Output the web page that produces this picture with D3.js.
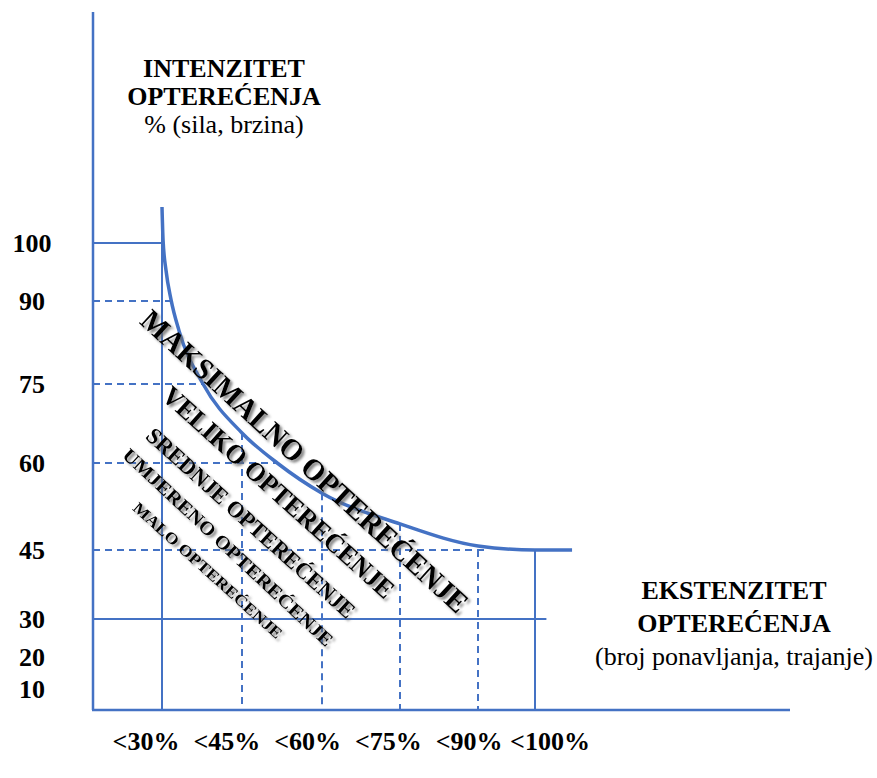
<!DOCTYPE html>
<html>

<head>
  <meta charset="utf-8">
  <!-- Load d3.js version 7-->
  <script src="https://d3js.org/d3.v7.min.js"></script>
  <title>Intenzitet i ekstenzitet opterećenja</title>
  <style>
    body { margin: 0; background: #fff; }
    text { font-family: "Liberation Serif", "Times New Roman", serif; fill: #000; }
  </style>
</head>

<body>
  <div id="myDiv"></div>

  <script>
    // ---- data ----
    // intensity (y) tick labels
    const intensityTicks = [100, 90, 75, 60, 45, 30, 20, 10];
    // extensity (x) categories and their labels
    const extensityCats = [30, 45, 60, 75, 90, 100];
    const extensityLabels = ["<30%", "<45%", "<60%", "<75%", "<90%", "<100%"];
    // horizontal guides: level, where the line stops (extensity), dashed or not
    const levelValues = [100, 90, 75, 60, 45, 30];
    const levelEnds = [30, 31.7, 37.7, 51.6, 91.5, 102];
    const levelDashed = [false, true, true, true, true, false];
    // vertical guides: top of each line (intensity), dashed or not
    const catTops = [106, 65.7, 54.8, 49.5, 45, 45];
    const catDashed = [false, true, true, true, true, false];
    // the load curve
    const curveExt = [30, 30.2, 30.75, 31.7, 33.2, 37.7, 45, 51.6, 60, 75, 90, 100, 106.5];
    const curveInt = [106.2, 100.5, 95.3, 90.2, 84.6, 75, 65.7, 60, 54.8, 49.5, 45.7, 45, 45];
    // zone names along the diagonal
    const zoneNames = ["MAKSIMALNO OPTEREĆENJE", "VELIKO OPTEREĆENJE", "SREDNJE OPTEREĆENJE",
      "UMJERENO OPTEREĆENJE", "MALO OPTEREĆENJE"];

    // ---- layout ----
    const W = 877, H = 778;
    const axisX = 93, axisY = 710, axisTop = 12, axisRight = 790;
    const blue = "#4472C4";
    // where each zone label sits (in data units), its angle, size and length
    const zoneLayout = [
      { ext: 56.8, int: 60.4, angle: 42.5, size: 30, len: 432 },
      { ext: 51.9, int: 55.0, angle: 42.0, size: 27, len: 302 },
      { ext: 46.7, int: 49.7, angle: 42.0, size: 23, len: 272 },
      { ext: 42.4, int: 45.5, angle: 43.0, size: 19, len: 280 },
      { ext: 38.6, int: 40.6, angle: 42.0, size: 16, len: 195 }
    ];

    const svg = d3.select("#myDiv")
      .append("svg")
      .attr("width", W)
      .attr("height", H);

    // drop shadow for the zone labels
    svg.append("defs").append("filter")
      .attr("id", "shadow")
      .attr("x", "-20%").attr("y", "-20%").attr("width", "140%").attr("height", "140%")
      .append("feDropShadow")
      .attr("dx", 2.5).attr("dy", 2.5)
      .attr("stdDeviation", 1.2)
      .attr("flood-color", "#666")
      .attr("flood-opacity", 0.75);

    // Build X scale (extensity)
    const x = d3.scaleLinear()
      .domain([30, 45, 60, 75, 90, 100])
      .range([162, 242, 322, 400, 478, 535]);

    // Build Y scale (intensity) - the source drawing is not evenly spaced
    const y = d3.scaleLinear()
      .domain([0, 10, 20, 30, 45, 60, 75, 90, 100])
      .range([709, 689, 657, 619, 550, 463, 384, 301, 243]);

    // horizontal guide lines
    svg.selectAll(".hline")
      .data(levelValues)
      .join("line")
      .attr("class", "hline")
      .attr("x1", axisX)
      .attr("x2", (d, i) => x(levelEnds[i]))
      .attr("y1", d => y(d))
      .attr("y2", d => y(d))
      .attr("stroke", blue)
      .attr("stroke-width", 2)
      .attr("stroke-dasharray", (d, i) => levelDashed[i] ? "7,5" : null);

    // vertical guide lines
    svg.selectAll(".vline")
      .data(extensityCats)
      .join("line")
      .attr("class", "vline")
      .attr("x1", d => x(d))
      .attr("x2", d => x(d))
      .attr("y1", (d, i) => y(catTops[i]))
      .attr("y2", y(0))
      .attr("stroke", blue)
      .attr("stroke-width", 2)
      .attr("stroke-dasharray", (d, i) => catDashed[i] ? "7,5" : null);

    // axes lines
    svg.append("line")
      .attr("x1", axisX).attr("x2", axisX)
      .attr("y1", axisTop).attr("y2", axisY)
      .attr("stroke", blue).attr("stroke-width", 2.5);
    svg.append("line")
      .attr("x1", axisX - 1).attr("x2", axisRight)
      .attr("y1", axisY).attr("y2", axisY)
      .attr("stroke", blue).attr("stroke-width", 2.5);

    // the curve
    const curvePts = curveExt.map((e, i) => [e, curveInt[i]]);
    svg.append("path")
      .datum(curvePts)
      .attr("fill", "none")
      .attr("stroke", blue)
      .attr("stroke-width", 3.5)
      .attr("d", d3.line()
        .x(d => x(d[0]))
        .y(d => y(d[1]))
        .curve(d3.curveMonotoneX));

    // y tick labels
    const yAxis = svg.append("g")
      .attr("transform", `translate(${axisX},0)`)
      .call(d3.axisLeft(y).tickValues(intensityTicks).tickSize(0));
    yAxis.select(".domain").remove();
    yAxis.selectAll("text")
      .attr("x", 32 - axisX)
      .attr("text-anchor", "middle")
      .style("font-family", "'Liberation Serif', 'Times New Roman', serif")
      .style("font-size", "26px")
      .style("font-weight", "bold")
      .style("fill", "#000");

    // x category labels
    const xl = d3.scalePoint()
      .domain(extensityLabels)
      .range([146, 550]);
    svg.selectAll(".xlab")
      .data(extensityLabels)
      .join("text")
      .attr("class", "xlab")
      .attr("x", d => xl(d))
      .attr("y", 750)
      .attr("text-anchor", "middle")
      .style("font-size", "26px")
      .style("font-weight", "bold")
      .text(d => d);

    // zone labels along the diagonal
    const zones = svg.append("g").attr("filter", "url(#shadow)");
    zones.selectAll("text")
      .data(zoneNames)
      .join("text")
      .attr("transform", (d, i) => {
        const z = zoneLayout[i];
        return `translate(${x(z.ext)},${y(z.int)}) rotate(${z.angle})`;
      })
      .attr("text-anchor", "middle")
      .attr("dy", "0.35em")
      .attr("textLength", (d, i) => zoneLayout[i].len)
      .attr("lengthAdjust", "spacingAndGlyphs")
      .style("font-size", (d, i) => zoneLayout[i].size + "px")
      .style("font-weight", "bold")
      .text(d => d);

    // axis titles
    const title = (lines, cx, y0, step) => {
      lines.forEach((l, i) => {
        svg.append("text")
          .attr("x", cx)
          .attr("y", y0 + i * step)
          .attr("text-anchor", "middle")
          .style("font-size", "26px")
          .style("font-weight", l.bold ? "bold" : "normal")
          .text(l.t);
      });
    };
    title([{ t: "INTENZITET", bold: true }, { t: "OPTEREĆENJA", bold: true }, { t: "% (sila, brzina)" }],
      224, 77, 28);
    title([{ t: "EKSTENZITET", bold: true }, { t: "OPTEREĆENJA", bold: true }, { t: "(broj ponavljanja, trajanje)" }],
      734, 599, 33);

  </script>
</body>

</html>
